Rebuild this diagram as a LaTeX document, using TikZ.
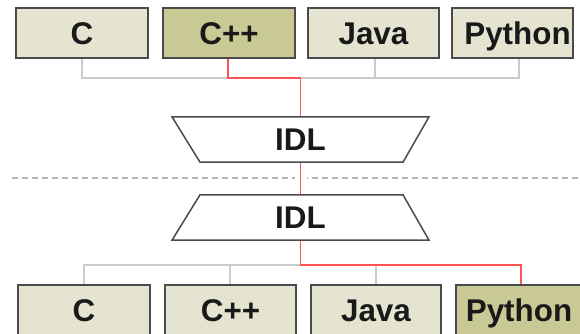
\documentclass[tikz,border=0pt]{standalone}
\usepackage{fontspec}
\setmainfont{Liberation Sans}
\usetikzlibrary{calc}
\definecolor{boxpale}{HTML}{E4E4D1}
\definecolor{boxolive}{HTML}{C9C995}
\definecolor{edgegray}{HTML}{4A4A4A}
\definecolor{wiregray}{HTML}{CBCBCB}
\definecolor{wirered}{HTML}{FF5252}
\definecolor{dashgray}{HTML}{B4B4B4}
\begin{document}
\begin{tikzpicture}[x=1bp,y=-1bp,
  bigbold/.style={font=\fontsize{31.5}{34}\selectfont\bfseries, text=black!90,
    text height=22.5bp, text depth=0pt},
  lang/.style={bigbold, draw=edgegray, line width=1.8bp, fill=boxpale,
    minimum height=50bp, inner sep=0pt},
  picked/.style={fill=boxolive},
  idltext/.style={bigbold, minimum height=45bp, minimum width=10bp, inner sep=0pt},
  trap/.style={draw=edgegray, line width=1.5bp, fill=white, line join=miter},
  wire/.style={draw=wiregray, line width=1.5bp},
  hot/.style={draw=wirered, line width=1.5bp}]
\useasboundingbox (0,0) rectangle (580,333);

% upper language row
\node[lang, minimum width=132bp] (tc) at (82,33) {C};
\node[lang, picked, minimum width=132bp] (tcpp) at (229,33) {C++};
\node[lang, minimum width=131bp] (tj) at (373.5,33) {Java};
\node[lang, minimum width=121bp] (tp) at (512.5,33) {\hspace*{10bp}Python};

% lower language row
\node[lang, minimum width=132bp] (bc) at (84,310) {C};
\node[lang, minimum width=131bp] (bcpp) at (230.5,310) {C++};
\node[lang, minimum width=130bp] (bj) at (376,310) {Java};
\node[lang, picked, minimum width=126bp] (bp) at (519,310) {Python};

% IDL labels (the trapezoids are drawn around them)
\node[idltext] (idla) at (300.5,139.5) {IDL};
\node[idltext] (idlb) at (300.5,217.5) {IDL};

% junction points of the buses
\coordinate (tbus) at (300.5,78);
\coordinate (bbus) at (300.5,265);

% upper bus
\draw[wire] (tc.south) |- (tbus);
\draw[wire] ([xshift=6.5bp]tp.south) |- (tbus);
\draw[wire] ([xshift=1.5bp]tj.south) -- ([xshift=1.5bp]tj.south |- tbus);
\draw[hot] ([xshift=-1bp]tcpp.south) |- (tbus) -- (idla.north);

% lower bus
\draw[wire] (bc.north) |- (bbus);
\draw[wire] ([xshift=-0.5bp]bcpp.north) -- ([xshift=-0.5bp]bcpp.north |- bbus);
\draw[wire] (bj.north) |- (bbus);
\draw[hot] (idlb.south) -- (bbus) -| ([xshift=2bp]bp.north);

% dashed separator
\draw[dashgray, line width=1.6bp, dash pattern=on 6bp off 4bp] (12,178) -- (580,178);

% link between the two IDL blocks
\draw[hot, preaction={draw=white, line width=12bp}] (idla.south) -- (idlb.north);

% IDL trapezoids
\draw[trap] ($(idla.north)+(-128.5,0)$) -- ($(idla.north)+(128.5,0)$)
  -- ($(idla.south)+(102.5,0)$) -- ($(idla.south)+(-100.5,0)$) -- cycle;
\draw[trap] ($(idlb.north)+(-100.5,0)$) -- ($(idlb.north)+(102.5,0)$)
  -- ($(idlb.south)+(128.5,0)$) -- ($(idlb.south)+(-128.5,0)$) -- cycle;
\node[idltext] at (idla) {IDL};
\node[idltext] at (idlb) {IDL};
\end{tikzpicture}
\end{document}
